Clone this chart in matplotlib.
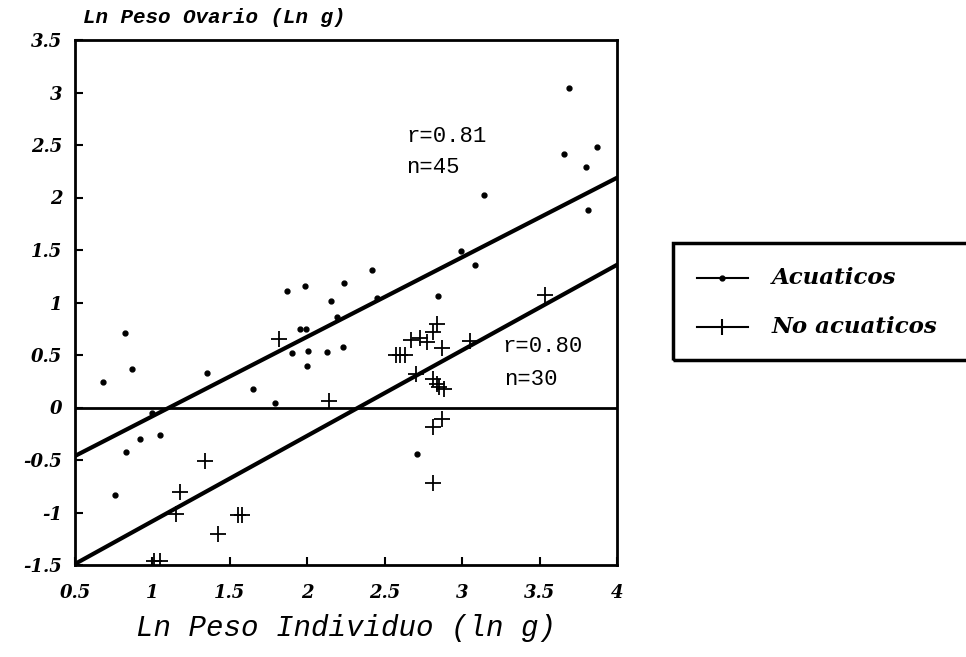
import matplotlib.pyplot as plt
from matplotlib.lines import Line2D
from matplotlib.patches import Rectangle
import numpy as np

# Acuaticos (dots)
acu_x = [0.68, 0.76, 0.82, 0.83, 0.87, 0.92, 1.05, 1.0, 1.35, 1.65, 1.79, 1.87, 1.90,
         1.95, 1.99, 1.985, 2.005, 1.995, 2.125, 2.155, 2.19, 2.23, 2.24, 2.42, 2.45,
         2.71, 2.845, 2.99, 3.08, 3.14, 3.66, 3.69, 3.80, 3.81, 3.87]
acu_y = [0.24, -0.83, 0.71, -0.42, 0.37, -0.30, -0.26, -0.05, 0.33, 0.18, 0.04, 1.11, 0.52,
         0.75, 0.75, 1.16, 0.54, 0.40, 0.53, 1.01, 0.86, 0.58, 1.19, 1.31, 1.04,
         -0.44, 1.06, 1.49, 1.36, 2.02, 2.41, 3.04, 2.29, 1.88, 2.48]

# No acuaticos (crosses)
noac_x = [1.01, 1.05, 1.15, 1.18, 1.34, 1.425, 1.55, 1.58, 1.82, 2.14, 2.57, 2.60, 2.63,
          2.67, 2.73, 2.77, 2.81, 2.835, 2.87, 3.05, 2.705, 2.81, 2.835, 2.85, 2.88,
          2.81, 2.87, 2.81, 3.535]
noac_y = [-1.46, -1.46, -1.01, -0.80, -0.51, -1.20, -1.02, -1.02, 0.65, 0.06, 0.50, 0.50, 0.50,
          0.64, 0.66, 0.62, 0.72, 0.80, 0.57, 0.63, 0.32, 0.27, 0.22, 0.20, 0.18,
          -0.19, -0.11, -0.72, 1.07]

# regression lines (slope, intercept)
fit_acu = (0.757, -0.84)
fit_noac = (0.814, -1.897)

xticks = [0.5, 1, 1.5, 2, 2.5, 3, 3.5, 4]
yticks = [-1.5, -1, -0.5, 0, 0.5, 1, 1.5, 2, 2.5, 3, 3.5]

W, H = 966, 657
fig = plt.figure(figsize=(W / 100, H / 100), dpi=100)
ax = fig.add_axes([75 / W, 1 - 565 / H, (617 - 75) / W, (565 - 40) / H])

ax.set_xlim(0.5, 4)
ax.set_ylim(-1.5, 3.5)

xx = np.array([0.5, 4])
ax.plot(xx, fit_acu[0] * xx + fit_acu[1], color='black', lw=3)
ax.plot(xx, fit_noac[0] * xx + fit_noac[1], color='black', lw=3)
ax.axhline(0, color='black', lw=2)

ax.plot(acu_x, acu_y, 'o', color='black', markersize=3.5, linestyle='none')
ax.plot(noac_x, noac_y, '+', color='black', markersize=11, mew=1.3, linestyle='none')

for s in ax.spines.values():
    s.set_linewidth(2)

tfont = dict(family='DejaVu Serif', style='italic', weight='bold', size=13)
ax.set_xticks(xticks)
ax.set_yticks(yticks)
ax.set_xticklabels([('%g' % v) for v in xticks], fontdict=tfont)
ax.set_yticklabels([('%g' % v) for v in yticks], fontdict=tfont)
ax.tick_params(direction='in', length=6, width=1.5)
ax.tick_params(axis='x', pad=14)
ax.tick_params(axis='y', pad=9)

ax.text(0.55, 3.62, 'Ln Peso Ovario (Ln g)', family='Liberation Mono', style='italic',
        weight='bold', size=15, ha='left', va='bottom')
ax.set_xlabel('Ln Peso Individuo (ln g)', family='Liberation Mono', style='italic',
              size=21, labelpad=8)

mono = dict(family='Liberation Mono', size=16, ha='left', va='center')
ax.text(2.64, 2.58, 'r=0.81', **mono)
ax.text(2.64, 2.29, 'n=45', **mono)
ax.text(3.26, 0.58, 'r=0.80', **mono)
ax.text(3.27, 0.27, 'n=30', **mono)

# legend box (figure pixel coords)
def fx(px):
    return px / W

def fy(py):
    return 1 - py / H

fig.add_artist(Rectangle((fx(673), fy(360)), fx(1000) - fx(673), fy(243) - fy(360),
                         transform=fig.transFigure, fill=False, lw=2.5, ec='black',
                         clip_on=False))
fig.add_artist(Line2D([fx(697), fx(748)], [fy(278), fy(278)], color='black', lw=1.5,
                      transform=fig.transFigure))
fig.add_artist(Line2D([fx(722)], [fy(278)], marker='o', color='black', markersize=3.5,
                      transform=fig.transFigure))
fig.add_artist(Line2D([fx(697), fx(748)], [fy(327), fy(327)], color='black', lw=1.5,
                      transform=fig.transFigure))
fig.add_artist(Line2D([fx(722)], [fy(327)], marker='|', color='black', markersize=11,
                      mew=1.5, transform=fig.transFigure))
lfont = dict(family='DejaVu Serif', style='italic', weight='bold', size=16.5,
             ha='left', va='center', transform=fig.transFigure)
fig.text(fx(772), fy(278), 'Acuaticos', **lfont)
fig.text(fx(772), fy(327), 'No acuaticos', **lfont)

fig.savefig('out.png', dpi=100)
